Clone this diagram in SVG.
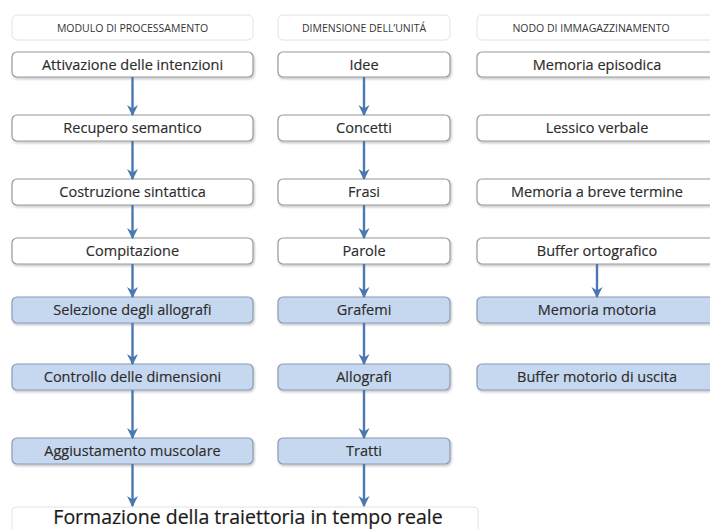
<svg xmlns="http://www.w3.org/2000/svg" width="710" height="529" viewBox="0 0 710 529">
<defs>
<filter id="sh" x="-5%" y="-20%" width="110%" height="150%">
<feDropShadow dx="1" dy="1.5" stdDeviation="1.2" flood-color="#000" flood-opacity="0.25"/>
</filter>
<marker id="ah" viewBox="0 0 10 10" refX="9" refY="5" markerWidth="4.6" markerHeight="4.6" orient="auto" markerUnits="strokeWidth">
<path d="M0,0 L10,5 L0,10 L3,5 Z" fill="#4a78b0"/>
</marker>
</defs>
<style>
.hd rect{fill:#fff;stroke:#e2e2e2;stroke-width:1}
.hd text{font-family:"Open Sans","Liberation Sans",Arial,sans-serif;font-size:10.5px;fill:#333;text-anchor:middle}
.n rect{fill:#fff;stroke:#9a9a9a;stroke-width:1.2;filter:url(#sh)}
.b rect{fill:#c6d8f0;stroke:#8a9bb5;stroke-width:1.2;filter:url(#sh)}
.n text,.b text{font-family:"Open Sans","Liberation Sans",Arial,sans-serif;font-size:14.5px;fill:#2b2b2b;text-anchor:middle;stroke:#2b2b2b;stroke-width:0.15}
.c line{stroke:#4a78b0;stroke-width:2.4;marker-end:url(#ah)}
.f rect{fill:#fff;stroke:#e2e2e2;stroke-width:1}
.f text{font-family:"Open Sans","Liberation Sans",Arial,sans-serif;font-size:19.5px;fill:#1a1a1a;text-anchor:middle;stroke:#1a1a1a;stroke-width:0.2}
</style>
<rect width="710" height="529" fill="#fff"/>

<g id="h1" class="hd"><rect x="12" y="15" width="241" height="25" rx="5"/><text x="132.5" y="31.5">MODULO DI PROCESSAMENTO</text></g>
<g id="h2" class="hd"><rect x="278" y="15" width="172" height="25" rx="5"/><text x="364" y="31.5">DIMENSIONE DELL’UNITÁ</text></g>
<g id="h3" class="hd"><rect x="477" y="15" width="241" height="25" rx="5"/><text x="591" y="31.5">NODO DI IMMAGAZZINAMENTO</text></g>

<g id="a1" class="n"><rect x="12" y="52" width="241" height="25" rx="5"/><text x="132.5" y="69.5">Attivazione delle intenzioni</text></g>
<g id="a2" class="n"><rect x="12" y="115" width="241" height="26" rx="5"/><text x="132.5" y="133">Recupero semantico</text></g>
<g id="a3" class="n"><rect x="12" y="179" width="241" height="26" rx="5"/><text x="132.5" y="197">Costruzione sintattica</text></g>
<g id="a4" class="n"><rect x="12" y="238" width="241" height="26" rx="5"/><text x="132.5" y="256">Compitazione</text></g>
<g id="a5" class="b"><rect x="12" y="297" width="241" height="26" rx="5"/><text x="132.5" y="315">Selezione degli allografi</text></g>
<g id="a6" class="b"><rect x="12" y="364" width="241" height="26" rx="5"/><text x="132.5" y="382">Controllo delle dimensioni</text></g>
<g id="a7" class="b"><rect x="12" y="438" width="241" height="26" rx="5"/><text x="132.5" y="456">Aggiustamento muscolare</text></g>

<g id="b1" class="n"><rect x="278" y="52" width="172" height="25" rx="5"/><text x="364" y="69.5">Idee</text></g>
<g id="b2" class="n"><rect x="278" y="115" width="172" height="26" rx="5"/><text x="364" y="133">Concetti</text></g>
<g id="b3" class="n"><rect x="278" y="179" width="172" height="26" rx="5"/><text x="364" y="197">Frasi</text></g>
<g id="b4" class="n"><rect x="278" y="238" width="172" height="26" rx="5"/><text x="364" y="256">Parole</text></g>
<g id="b5" class="b"><rect x="278" y="297" width="172" height="26" rx="5"/><text x="364" y="315">Grafemi</text></g>
<g id="b6" class="b"><rect x="278" y="364" width="172" height="26" rx="5"/><text x="364" y="382">Allografi</text></g>
<g id="b7" class="b"><rect x="278" y="438" width="172" height="26" rx="5"/><text x="364" y="456">Tratti</text></g>

<g id="c1" class="n"><rect x="477" y="52" width="241" height="25" rx="5"/><text x="597" y="69.5">Memoria episodica</text></g>
<g id="c2" class="n"><rect x="477" y="115" width="241" height="26" rx="5"/><text x="597" y="133">Lessico verbale</text></g>
<g id="c3" class="n"><rect x="477" y="179" width="241" height="26" rx="5"/><text x="597" y="197">Memoria a breve termine</text></g>
<g id="c4" class="n"><rect x="477" y="238" width="241" height="26" rx="5"/><text x="597" y="256">Buffer ortografico</text></g>
<g id="c5" class="b"><rect x="477" y="297" width="241" height="26" rx="5"/><text x="597" y="315">Memoria motoria</text></g>
<g id="c6" class="b"><rect x="477" y="364" width="241" height="26" rx="5"/><text x="597" y="382">Buffer motorio di uscita</text></g>

<g id="fin" class="f"><rect x="12" y="507" width="466" height="30" rx="4"/><text x="248" y="524">Formazione della traiettoria in tempo reale</text></g>

<g id="connectors" class="c">
<line x1="132.5" y1="77" x2="132.5" y2="115"/>
<line x1="132.5" y1="141" x2="132.5" y2="179"/>
<line x1="132.5" y1="205" x2="132.5" y2="238"/>
<line x1="132.5" y1="264" x2="132.5" y2="297"/>
<line x1="132.5" y1="323" x2="132.5" y2="364"/>
<line x1="132.5" y1="390" x2="132.5" y2="438"/>
<line x1="132.5" y1="464" x2="132.5" y2="506"/>
<line x1="364" y1="77" x2="364" y2="115"/>
<line x1="364" y1="141" x2="364" y2="179"/>
<line x1="364" y1="205" x2="364" y2="238"/>
<line x1="364" y1="264" x2="364" y2="297"/>
<line x1="364" y1="323" x2="364" y2="364"/>
<line x1="364" y1="390" x2="364" y2="438"/>
<line x1="364" y1="464" x2="364" y2="506"/>
<line x1="597" y1="264" x2="597" y2="297"/>
</g>
</svg>
